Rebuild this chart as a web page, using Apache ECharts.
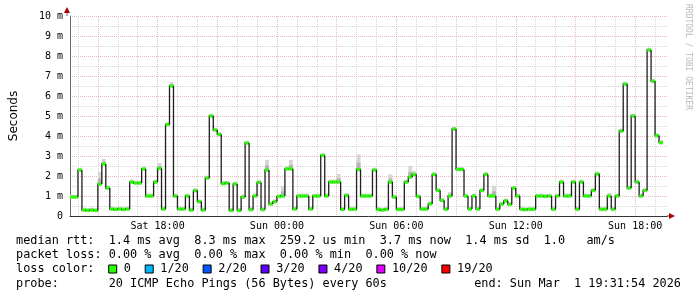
<!DOCTYPE html>
<html><head><meta charset="utf-8">
<script src="https://cdn.jsdelivr.net/npm/echarts@6/dist/echarts.min.js"></script>
<style>html,body{margin:0;padding:0;background:#fff}#c{width:697px;height:297px}</style>
</head><body><div id="c"></div>
<script>
// ---- data (12-minute consolidated samples starting Sat 13:36) ----
const startMinute = 13 * 60 + 36;
const stepMinutes = 12;
const medianMs = [
  0.95, 0.95, 2.3, 0.3, 0.28, 0.3, 0.28, 1.6, 2.6, 1.4,
  0.35, 0.33, 0.35, 0.33, 0.35, 1.7, 1.65, 1.65, 2.35, 1.0,
  1.0, 1.7, 2.38, 0.35, 4.57, 6.5, 1.0, 0.35, 0.35, 1.0,
  0.3, 1.27, 0.72, 0.3, 1.9, 5.0, 4.3, 4.08, 1.62, 1.65,
  0.28, 1.6, 0.28, 0.95, 3.65, 0.32, 1.0, 1.68, 0.32, 2.3,
  0.6, 0.72, 0.98, 1.0, 2.36, 2.36, 0.35, 1.0, 1.0, 1.0,
  0.35, 1.0, 1.0, 3.03, 1.0, 1.7, 1.7, 1.7, 0.33, 1.03,
  0.34, 0.34, 2.33, 1.0, 1.0, 1.0, 2.3, 0.33, 0.3, 0.33,
  1.7, 0.95, 0.33, 0.33, 1.7, 1.95, 2.08, 0.98, 0.35, 0.35,
  0.61, 2.08, 1.28, 0.78, 0.34, 1.0, 4.35, 2.33, 2.33, 1.0,
  0.35, 1.0, 0.35, 1.28, 2.08, 1.0, 1.0, 0.34, 0.6, 0.76,
  0.58, 1.4, 1.0, 0.34, 0.32, 0.34, 0.34, 1.0, 1.0, 0.98,
  1.0, 0.34, 1.0, 1.7, 1.0, 1.0, 1.7, 0.34, 1.7, 1.0,
  1.0, 1.28, 2.1, 0.34, 0.34, 1.0, 0.34, 1.0, 4.25, 6.6,
  1.4, 5.0, 1.7, 1.0, 1.28, 8.3, 6.74, 4.02, 3.67
];
// samples whose ping spread (smoke) reaches clearly above the median: [sample, top ms]
const smokeTop = [
  [7, 2.2], [8, 2.85], [22, 2.65], [25, 6.7], [38, 1.75], [39, 1.75],
  [49, 2.8], [53, 1.5], [55, 2.8], [67, 2.1], [72, 3.08], [80, 2.08],
  [85, 2.5], [86, 2.25], [95, 1.2], [106, 1.52], [111, 1.48], [135, 1.14]
];
const xTickLabels = ['Sat 18:00', 'Sun 00:00', 'Sun 06:00', 'Sun 12:00', 'Sun 18:00'];
const yTickLabels = ['0', '1 m', '2 m', '3 m', '4 m', '5 m', '6 m', '7 m', '8 m', '9 m', '10 m'];
const lossLevels = ['0', '1/20', '2/20', '3/20', '4/20', '10/20', '19/20'];
const lossColors = ['#26ff00', '#00b8ff', '#0059ff', '#5e00ff', '#7e00ff', '#dd00ff', '#ff0000'];
const legendRows = [
  'median rtt:  1.4 ms avg  8.3 ms max  259.2 us min  3.7 ms now  1.4 ms sd  1.0   am/s',
  'packet loss: 0.00 % avg  0.00 % max  0.00 % min  0.00 % now',
  'loss color:',
  'probe:       20 ICMP Echo Pings (56 Bytes) every 60s'
];
const endText = 'end: Sun Mar  1 19:31:54 2026';
const watermark = 'RRDTOOL / TOBI OETIKER';

// ---- build ----
const nSlots = 150;
const pad = n => (n < 10 ? '0' : '') + n;
const categories = [];
for (let i = 0; i <= nSlots; i++) {
  const t = startMinute + stepMinutes * i;
  const day = t < 1440 ? 'Sat' : 'Sun';
  const m = t % 1440;
  categories.push(day + ' ' + pad(Math.floor(m / 60)) + ':' + pad(m % 60));
}
const smokeMap = {};
smokeTop.forEach(d => { smokeMap[d[0]] = d[1]; });
const medianData = medianMs.map((v, i) => [i, v, i > 0 ? medianMs[i - 1] : v]);
const smokeData = medianMs.map((v, i) => [i, v - 0.1, smokeMap[i] !== undefined ? smokeMap[i] : v + 0.12, v]);

const MAJ = 'rgba(225,140,140,0.6)';
const MIN = 'rgba(200,200,200,0.75)';
const monoAxis = { fontFamily: 'DejaVu Sans Mono', fontSize: 10, color: '#000' };
const charW = 7.13;
const legendFont = '11.85px "DejaVu Sans Mono"';
const gLeft = 67, gTop = 16, gRight = 667, gBottom = 216;

const graphics = [];
const rowY = [240.5, 255, 269, 284];
legendRows.forEach((t, k) => graphics.push({
  type: 'text', x: 16, y: rowY[k],
  style: { text: t, font: legendFont, fill: '#000', verticalAlign: 'middle' }
}));
graphics.push({ type: 'text', x: 681, y: rowY[3],
  style: { text: endText, font: legendFont, fill: '#000', align: 'right', verticalAlign: 'middle' } });
let lx = 16 + charW * 13;
lossLevels.forEach((lab, k) => {
  graphics.push({ type: 'rect', shape: { x: lx, y: rowY[2] - 4, width: 8, height: 8 },
    style: { fill: lossColors[k], stroke: '#000', lineWidth: 1 } });
  graphics.push({ type: 'text', x: lx + 8 + charW, y: rowY[2],
    style: { text: lab, font: legendFont, fill: '#000', verticalAlign: 'middle' } });
  lx += 8 + charW * (1 + lab.length + 2);
});
// axis extensions and arrows
graphics.push({ type: 'line', shape: { x1: gLeft, y1: gTop, x2: gLeft, y2: gTop - 5 }, style: { stroke: '#666', lineWidth: 1 } });
graphics.push({ type: 'polygon', shape: { points: [[gLeft - 3, gTop - 3], [gLeft + 3, gTop - 3], [gLeft, gTop - 9]] }, style: { fill: '#b00000' } });
graphics.push({ type: 'line', shape: { x1: gRight, y1: gBottom, x2: gRight + 3, y2: gBottom }, style: { stroke: '#333', lineWidth: 1 } });
graphics.push({ type: 'polygon', shape: { points: [[gRight + 2, gBottom - 3], [gRight + 2, gBottom + 3], [gRight + 8, gBottom]] }, style: { fill: '#b00000' } });
graphics.push({ type: 'text', x: 688, y: 4, rotation: -Math.PI / 2,
  style: { text: watermark, font: '8px "DejaVu Sans Mono"', fill: '#b8b8b8', align: 'left', verticalAlign: 'middle' } });

const chart = echarts.init(document.getElementById('c'), null, { renderer: 'canvas' });
chart.setOption({
  animation: false,
  backgroundColor: '#fff',
  grid: { left: gLeft, top: gTop, right: 697 - gRight, bottom: 297 - gBottom, containLabel: false },
  xAxis: {
    type: 'category', data: categories, boundaryGap: false,
    axisLine: { lineStyle: { color: '#333', width: 1 } },
    axisTick: { show: false },
    axisLabel: Object.assign({ margin: 5, interval: (idx, val) => xTickLabels.indexOf(val) >= 0 }, monoAxis),
    splitLine: { show: true, interval: (idx, val) => /:00$/.test(val),
      lineStyle: { color: [MIN, MAJ, MIN], type: [1, 1], width: 1 } }
  },
  yAxis: {
    type: 'value', min: 0, max: 10, interval: 0.5,
    name: 'Seconds', nameLocation: 'middle', nameGap: 50, nameRotate: 90,
    nameTextStyle: { fontFamily: 'DejaVu Sans', fontSize: 12, color: '#000' },
    axisLine: { show: true, lineStyle: { color: '#666', width: 1 } },
    axisTick: { show: false },
    axisLabel: Object.assign({ margin: 7, formatter: v => {
      const r = Math.round(v);
      return Math.abs(v - r) < 1e-6 ? yTickLabels[r] : '';
    } }, monoAxis),
    splitLine: { show: true, lineStyle: { color: [MAJ, MIN], type: [1, 1], width: 1 } }
  },
  series: [
    {
      type: 'custom', z: 2, data: smokeData, encode: { x: 0, y: 1 },
      renderItem: (params, api) => {
        const i = api.value(0), lo = api.value(1), hi = api.value(2), v = api.value(3);
        const a = api.coord([i, hi]), b = api.coord([i + 1, lo]);
        const ia = api.coord([i, v + (hi - v) * 0.45]), ib = api.coord([i + 1, v - (v - lo) * 0.45]);
        return { type: 'group', children: [
          { type: 'rect', shape: { x: a[0], y: a[1], width: b[0] - a[0], height: b[1] - a[1] }, style: { fill: '#d6d6d6' } },
          { type: 'rect', shape: { x: ia[0], y: ia[1], width: ib[0] - ia[0], height: ib[1] - ia[1] }, style: { fill: '#b4b4b4' } }
        ] };
      }
    },
    {
      type: 'custom', z: 3, data: medianData, encode: { x: 0, y: 1 },
      renderItem: (params, api) => {
        const i = api.value(0), v = api.value(1), prev = api.value(2);
        const pPrev = api.coord([i, prev]), p0 = api.coord([i, v]), p1 = api.coord([i + 1, v]);
        return { type: 'group', children: [
          { type: 'polyline', shape: { points: [pPrev, p0, p1] }, style: { stroke: '#202020', lineWidth: 1.3, fill: null } },
          { type: 'rect', shape: { x: p0[0], y: p0[1] - 1.5, width: p1[0] - p0[0], height: 3 }, style: { fill: lossColors[0] } }
        ] };
      }
    }
  ],
  graphic: graphics
});
</script></body></html>
